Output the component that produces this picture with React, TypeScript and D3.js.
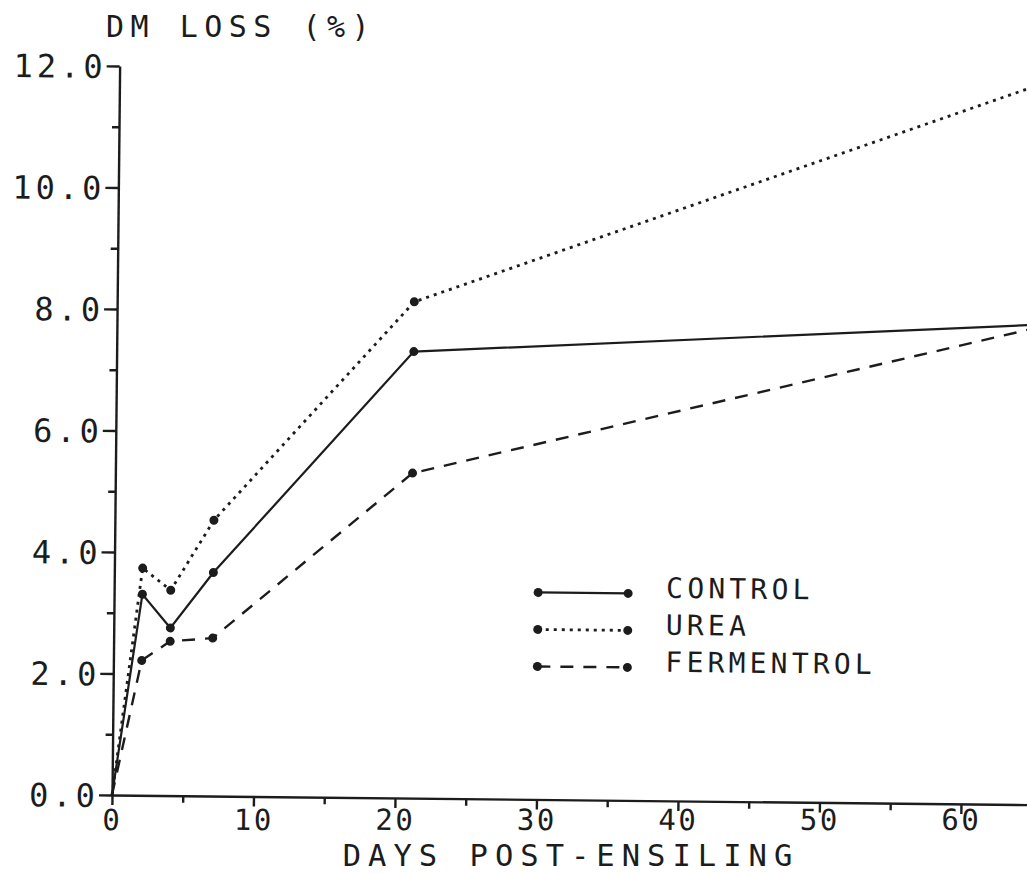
import React, { useRef, useEffect } from "react";
import * as d3 from "d3";

// days post-ensiling and DM loss (%)
const days = [0, 2, 4, 7, 21, 65];
const control = [0, 3.31, 2.76, 3.68, 7.35, 7.9];
const urea = [0, 3.74, 3.38, 4.54, 8.17, 11.85];
const fermentrol = [0, 2.22, 2.54, 2.6, 5.35, 7.85];
const seriesNames = ["CONTROL", "UREA", "FERMENTROL"];

const yMajorTicks = [0, 2, 4, 6, 8, 10, 12];
const yMinorTicks = [1, 3, 5, 7, 9, 11];
const xMajorTicks = [0, 10, 20, 30, 40, 50, 60];
const xMinorTicks = [5, 15, 25, 35, 45, 55, 65];

const ink = "#1c1c1c";
const font = "'DejaVu Sans Mono', monospace";
const tilt = 0.6; // degrees, the scan is slightly rotated

export default function App() {
  const chartRef = useRef<SVGSVGElement>(null);

  useEffect(() => {
    if (!chartRef.current) return;
    const svg = d3.select(chartRef.current);
    svg.selectAll("*").remove();

    const width = 1027;
    const height = 873;
    const x0 = 112;
    const y0 = 795;
    const sin = Math.sin((tilt * Math.PI) / 180);

    const xScale = d3.scaleLinear().domain([0, 66]).range([x0, x0 + 66 * 14.15]);
    const yScale = d3.scaleLinear().domain([0, 12]).range([y0, 66]);

    svg.attr("width", width).attr("height", height);
    svg.append("rect").attr("width", width).attr("height", height).attr("fill", "#fff");

    const g = svg.append("g").attr("transform", `rotate(${tilt},${x0},${y0})`);

    // y axis
    const yAxis = g
      .append("g")
      .attr("transform", `translate(${x0},0)`)
      .call(
        d3
          .axisLeft(yScale)
          .tickValues(yMajorTicks)
          .tickSize(13)
          .tickSizeOuter(0)
          .tickFormat(d3.format(".1f"))
      );
    yAxis
      .selectAll("text")
      .attr("x", -13)
      .attr("dy", "0.36em")
      .attr("font-size", 32)
      .attr("letter-spacing", 4);

    const yMinor = g
      .append("g")
      .attr("transform", `translate(${x0},0)`)
      .call(d3.axisLeft(yScale).tickValues(yMinorTicks).tickSize(7).tickFormat(() => ""));
    yMinor.select(".domain").remove();

    // x axis
    const xAxis = g
      .append("g")
      .attr("transform", `translate(0,${y0})`)
      .call(
        d3
          .axisBottom(xScale)
          .tickValues(xMajorTicks)
          .tickSize(10)
          .tickSizeOuter(0)
          .tickFormat(d3.format("d"))
      );
    // keep the day labels level on screen
    xAxis
      .selectAll<SVGTextElement, number>("text")
      .attr("y", 35)
      .attr("dy", null)
      .attr("transform", (d) => `translate(0,${-(xScale(d) - x0) * sin})`)
      .attr("font-size", 29)
      .attr("letter-spacing", 2.5);

    const xMinor = g
      .append("g")
      .attr("transform", `translate(0,${y0})`)
      .call(d3.axisBottom(xScale).tickValues(xMinorTicks).tickSize(7).tickFormat(() => ""));
    xMinor.select(".domain").remove();

    g.selectAll(".tick line, .domain").attr("stroke", ink).attr("stroke-width", 2.4);
    g.selectAll(".tick text").attr("fill", ink).attr("font-family", font);

    // axis titles
    svg.append("text")
      .attr("x", 106)
      .attr("y", 37)
      .attr("font-family", font)
      .attr("font-size", 30)
      .attr("letter-spacing", 6.5)
      .attr("fill", ink)
      .text("DM LOSS (%)");

    svg.append("text")
      .attr("x", 571)
      .attr("y", 865.5)
      .attr("text-anchor", "middle")
      .attr("font-family", font)
      .attr("font-size", 30.5)
      .attr("letter-spacing", 7)
      .attr("fill", ink)
      .text("DAYS POST-ENSILING");

    // series
    const series = [
      { name: seriesNames[0], values: control, dash: "none", w: 2.2 },
      { name: seriesNames[1], values: urea, dash: "3 5", w: 2.8 },
      { name: seriesNames[2], values: fermentrol, dash: "13 10", w: 2.4 },
    ];

    const line = d3
      .line<number>()
      .x((_, i) => xScale(days[i]))
      .y((d) => yScale(d));

    series.forEach((s) => {
      g.append("path")
        .datum(s.values)
        .attr("d", line)
        .attr("fill", "none")
        .attr("stroke", ink)
        .attr("stroke-width", s.w)
        .attr("stroke-dasharray", s.dash);

      g.selectAll(null)
        .data(s.values.slice(1))
        .enter()
        .append("circle")
        .attr("cx", (_, i) => xScale(days[i + 1]))
        .attr("cy", (d) => yScale(d))
        .attr("r", 4.5)
        .attr("fill", ink);
    });

    // legend
    const legend = g.append("g").attr("transform", "translate(536,588)");
    series.forEach((s, i) => {
      const row = legend.append("g").attr("transform", `translate(0,${i * 37})`);
      row
        .append("line")
        .attr("x1", 0)
        .attr("x2", 90)
        .attr("stroke", ink)
        .attr("stroke-width", s.w)
        .attr("stroke-dasharray", s.dash);
      row.append("circle").attr("cx", 0).attr("r", 4.5).attr("fill", ink);
      row.append("circle").attr("cx", 90).attr("r", 4.5).attr("fill", ink);
      row
        .append("text")
        .attr("x", 128)
        .attr("y", 4)
        .attr("font-family", font)
        .attr("font-size", 28)
        .attr("letter-spacing", 4.2)
        .attr("fill", ink)
        .text(s.name);
    });
  }, []);

  return (
    <svg
      ref={chartRef}
      style={{ position: "absolute", left: 0, top: 0, display: "block" }}
    ></svg>
  );
}
